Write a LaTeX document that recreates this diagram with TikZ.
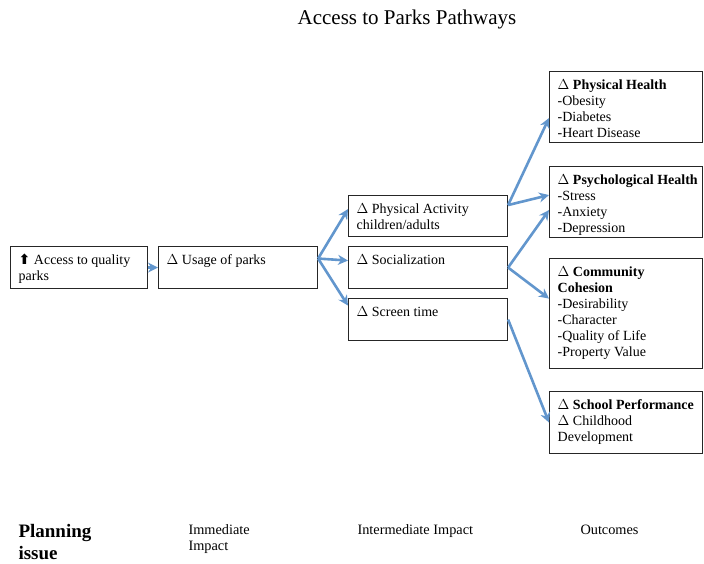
\documentclass[tikz,border=0pt]{standalone}
\usepackage{fontspec}
\setmainfont{Liberation Serif}
\newfontfamily\symfont{DejaVu Sans}
\usepackage{tikz}
\usetikzlibrary{arrows.meta,positioning}
\definecolor{arrowblue}{RGB}{98,150,205}

\tikzset{
  box/.style={draw=black!85, line width=1.1pt, anchor=north west, inner sep=0pt},
  boxtext/.style={anchor=north west, align=left, inner xsep=8.5pt, inner ysep=8pt,
    font=\fontsize{14}{16}\selectfont},
  link/.style={draw=arrowblue, line width=2.6pt, -{Stealth[length=10pt,width=10pt]}},
  colhead/.style={anchor=north west, align=left, font=\fontsize{14.3}{16}\selectfont}
}

\begin{document}
\begin{tikzpicture}[x=1pt,y=-1pt]
\useasboundingbox (0,0) rectangle (704,563);
\node[font=\fontsize{21}{24}\selectfont] (title) at (407,19) {Access to Parks Pathways};

% planning issue and immediate impact
\node[box, minimum width=137pt, minimum height=42pt] (acc) at (10,246) {};
\node[boxtext] at (acc.north west) {{\symfont\bfseries ⬆} Access to quality\\parks};
\node[box, minimum width=159pt, minimum height=42pt] (usage) at (158,246) {};
\node[boxtext] at (usage.north west) {$\Delta$ Usage of parks};

% intermediate impact
\node[box, minimum width=159pt, minimum height=41pt] (pa) at (348,195) {};
\node[boxtext] at (pa.north west) {$\Delta$ Physical Activity\\children/adults};
\node[box, minimum width=159pt, minimum height=42pt] (soc) at (348,246) {};
\node[boxtext] at (soc.north west) {$\Delta$ Socialization};
\node[box, minimum width=159pt, minimum height=42pt] (scr) at (348,298) {};
\node[boxtext] at (scr.north west) {$\Delta$ Screen time};

% outcomes
\node[box, minimum width=153pt, minimum height=71pt] (ph) at (549,71) {};
\node[boxtext] at (ph.north west) {$\Delta$ \textbf{Physical Health}\\-Obesity\\-Diabetes\\-Heart Disease};
\node[box, minimum width=153pt, minimum height=71pt] (psy) at (549,166) {};
\node[boxtext] at (psy.north west) {$\Delta$ \textbf{Psychological Health}\\-Stress\\-Anxiety\\-Depression};
\node[box, minimum width=153pt, minimum height=110pt] (com) at (549,258) {};
\node[boxtext] at (com.north west) {$\Delta$ \textbf{Community}\\\textbf{Cohesion}\\-Desirability\\-Character\\-Quality of Life\\-Property Value};
\node[box, minimum width=153pt, minimum height=62pt] (sch) at (549,391) {};
\node[boxtext] at (sch.north west) {$\Delta$ \textbf{School Performance}\\$\Delta$ Childhood\\Development};

% arrows
\draw[link] (acc.east) -- (usage.west);
\draw[link] ([yshift=9pt]usage.east) -- ([yshift=7pt]pa.west);
\draw[link] ([yshift=9pt]usage.east) -- ([yshift=7pt]soc.west);
\draw[link] ([yshift=9pt]usage.east) -- ([yshift=14pt]scr.west);
\draw[link] ([yshift=11pt]pa.east) -- ([yshift=-11pt]ph.west);
\draw[link] ([yshift=11pt]pa.east) -- ([yshift=7pt]psy.west);
\draw[link] (soc.east) -- ([yshift=-8pt]psy.west);
\draw[link] (soc.east) -- ([yshift=15pt]com.west);
\draw[link] (scr.east) -- (sch.west);

% column labels
\node[colhead, font=\fontsize{19}{22}\selectfont\bfseries] (plan) at (15,521) {Planning\\issue};
\node[colhead] (imm) at (185,521) {Immediate\\Impact};
\node[colhead] (inter) at (354,521) {Intermediate Impact};
\node[colhead] (out) at (577,521) {Outcomes};
\end{tikzpicture}
\end{document}
